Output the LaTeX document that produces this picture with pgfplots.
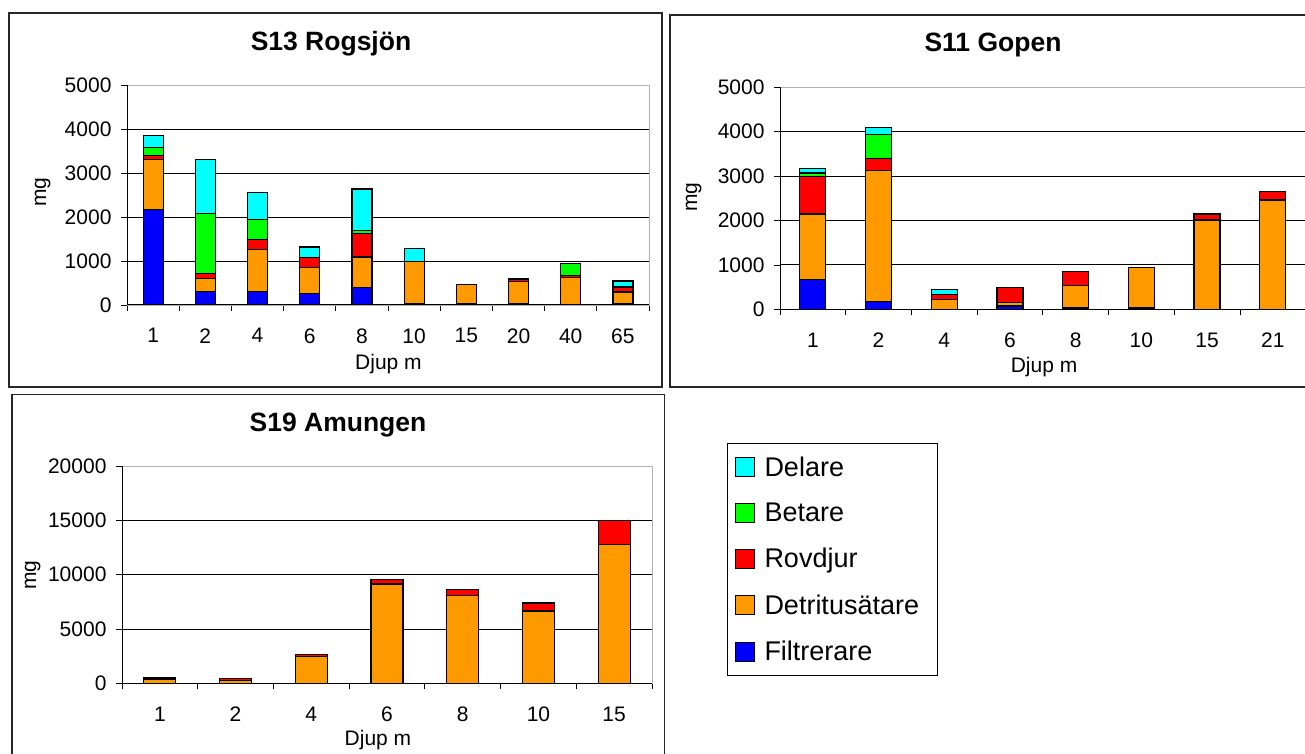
\documentclass[border=0pt]{standalone}
\usepackage{fontspec}
\setmainfont{Liberation Sans}
\usepackage{pgfplots}
\pgfplotsset{compat=1.18}
\usepackage{pgfplotstable}

\definecolor{cFil}{HTML}{0000FF}
\definecolor{cDet}{HTML}{FF9900}
\definecolor{cRov}{HTML}{FF0000}
\definecolor{cBet}{HTML}{00FF00}
\definecolor{cDel}{HTML}{00FFFF}

% columns: F=Filtrerare D=Detritusatare R=Rovdjur B=Betare L=Delare
\pgfplotstableread{
x F D R B L
0 2170 1130 90 190 280
1 300 310 100 1370 1230
2 300 960 235 455 600
3 265 590 230 0 235
4 400 690 540 60 947
5 30 962 0 0 290
6 30 430 0 0 0
7 30 510 50 0 0
8 0 620 50 275 0
9 30 265 105 15 130
}\tabA

\pgfplotstableread{
x F D R B L
0 665 1480 845 80 110
1 170 2960 270 540 150
2 0 215 125 0 100
3 75 80 330 0 0
4 30 500 320 0 0
5 30 905 0 0 0
6 0 2010 135 0 0
7 0 2460 190 0 0
}\tabB

\pgfplotstableread{
x F D R B L
0 0 400 150 0 0
1 0 250 170 0 0
2 0 2450 200 0 0
3 0 9140 430 0 0
4 0 8070 580 0 0
5 0 6660 730 0 0
6 0 12790 2210 0 0
}\tabC

\pgfplotsset{
 panel/.style={
   scale only axis, anchor=south west,
   ybar stacked, ymin=0,
   scaled y ticks=false,
   axis line style={draw=gray!60, line width=0.8pt},
   ymajorgrids, grid style={black, line width=0.9pt},
   ytick pos=left, xtick pos=bottom, tick align=outside, major tick length=6pt,
   tick style={black, line width=0.8pt},
   xticklabels={},
   extra x tick style={major tick length=0pt, grid=none},
   ticklabel style={font=\fontsize{21}{24}\selectfont},
   yticklabel style={xshift=-6pt},
   xticklabel style={yshift=-20pt},
   /pgf/number format/assume math mode=true,
   /pgf/number format/1000 sep={},
   every axis plot/.append style={draw=black, line width=1.2pt},
   legend image code/.code={\draw[##1,line width=1pt] (0pt,-9.5pt) rectangle (19pt,9.5pt);},
 }
}

\newcommand{\bars}[1]{%
  \addplot[fill=cFil] table[x=x,y=F]{#1};
  \addplot[fill=cDet] table[x=x,y=D]{#1};
  \addplot[fill=cRov] table[x=x,y=R]{#1};
  \addplot[fill=cBet] table[x=x,y=B]{#1};
  \addplot[fill=cDel] table[x=x,y=L]{#1};
  \draw[black, line width=1pt] (rel axis cs:0,1) -- (rel axis cs:0,0) -- (rel axis cs:1,0);
}

\begin{document}
\begin{tikzpicture}[x=1pt,y=1pt]
\useasboundingbox (0,0) rectangle (1305,753);
\clip (0,0) rectangle (1305,753);
\fill[white] (0,0) rectangle (1305,753);

% panel frames
\draw[black!85, line width=1.6pt] (9,740) rectangle (662,366);
\draw[black!85, line width=1.6pt] (670,738) rectangle (1330,366);
\draw[black!85, line width=1.6pt] (12,358.5) rectangle (664.5,-20);

% titles
\node[anchor=base, font=\bfseries\fontsize{26.5}{30}\selectfont] at (331,702.3) {S13 Rogsjön};
\node[anchor=base, font=\bfseries\fontsize{26.5}{30}\selectfont] at (993,701) {S11 Gopen};
\node[anchor=base, font=\bfseries\fontsize{26.5}{30}\selectfont] at (338,322) {S19 Amungen};

% axis labels
\node[anchor=base, rotate=90, font=\fontsize{21}{24}\selectfont] at (46,561) {mg};
\node[anchor=base, font=\fontsize{21}{24}\selectfont] at (388.5,383.3) {Djup m};
\node[anchor=base, rotate=90, font=\fontsize{21}{24}\selectfont] at (697,556) {mg};
\node[anchor=base, font=\fontsize{21}{24}\selectfont] at (1044,381) {Djup m};
\node[anchor=base, rotate=90, font=\fontsize{21}{24}\selectfont] at (36,178) {mg};
\node[anchor=base, font=\fontsize{21}{24}\selectfont] at (378,8) {Djup m};

\begin{axis}[panel, at={(127pt,448pt)}, width=522pt, height=220pt,
  xmin=-0.5, xmax=9.5, ymax=5000, ytick={0,1000,...,5000}, bar width=20pt,
  xtick={-0.5,0.5,...,9.5},
  extra x ticks={0,1,...,9}, extra x tick labels={1,2,4,6,8,10,15,20,40,65}]
\bars{\tabA}
\end{axis}

\begin{axis}[panel, at={(780pt,443.7pt)}, width=525.6pt, height=222pt,
  xmin=-0.5, xmax=7.5, ymax=5000, ytick={0,1000,...,5000}, bar width=26pt,
  xtick={-0.5,0.5,...,7.5},
  extra x ticks={0,1,...,7}, extra x tick labels={1,2,4,6,8,10,15,21}]
\bars{\tabB}
\end{axis}

\begin{axis}[panel, at={(122pt,69.7pt)}, width=530pt, height=217.3pt,
  xmin=-0.5, xmax=6.5, ymax=20000, ytick={0,5000,...,20000}, bar width=32pt,
  xtick={-0.5,0.5,...,6.5},
  extra x ticks={0,1,...,6}, extra x tick labels={1,2,4,6,8,10,15},
  reverse legend,
  legend cell align=left,
  legend style={at={(1.1415,1.108)}, anchor=north west, draw=black, line width=1pt,
    font=\fontsize{27}{30}\selectfont, inner xsep=7pt, inner ysep=11.5pt, row sep=21.3pt,
    column sep=8pt}]
\bars{\tabC}
\legend{Filtrerare,Detritusätare\hspace*{9pt},Rovdjur,Betare,Delare}
\end{axis}
\end{tikzpicture}
\end{document}
